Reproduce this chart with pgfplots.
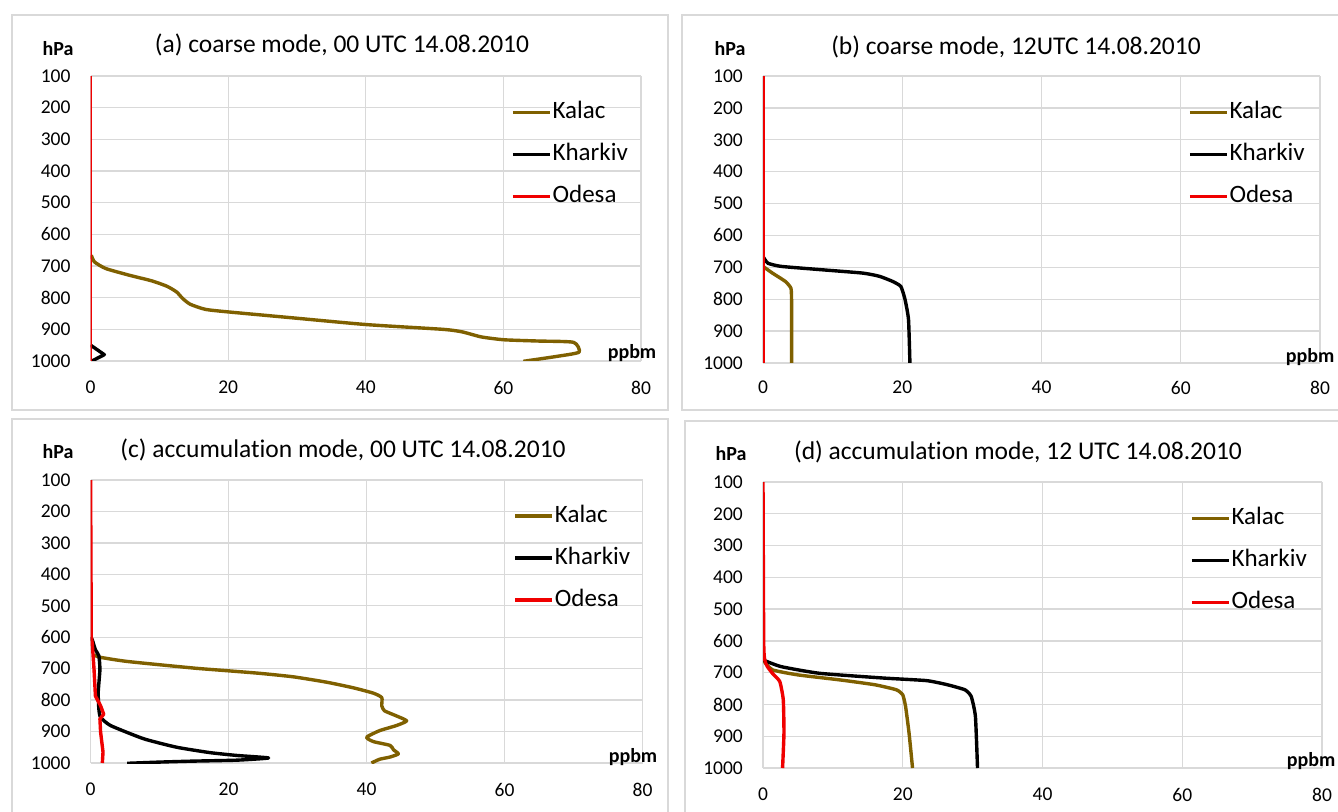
\documentclass[border=0pt]{standalone}
\usepackage{pgfplots}
\pgfplotsset{compat=1.18}
\usepackage{fontspec}
\setmainfont{Carlito}[Ligatures={NoCommon}]
\definecolor{kalac}{RGB}{127,96,0}
\definecolor{odesa}{RGB}{240,0,0}
\definecolor{gridc}{RGB}{217,217,217}
\pgfplotsset{
 panel/.style={scale only axis, anchor=south west, xmin=0,xmax=80,ymin=100,ymax=1000,y dir=reverse,
  xtick={0,20,40,60,80}, ytick={100,200,...,1000}, grid=major, grid style={gridc, line width=1.3pt},
  axis line style={draw=none}, major tick length=0pt,
  tick label style={font=\fontsize{19.5}{22}\selectfont, text=black},
  /pgf/number format/assume math mode=true,
  /pgf/number format/set thousands separator={},
  yticklabel style={anchor=east, inner sep=0pt, xshift=-20pt},
  xticklabel style={anchor=north, inner sep=0pt, yshift=-20pt},
  legend cell align=left,
  legend style={draw=none, fill=none, font=\fontsize{25}{30}\selectfont, inner sep=0pt, row sep=16pt,
    nodes={inner sep=1pt, text height=18pt, text depth=6pt}},
  legend image code/.code={\draw[#1, line width=3.3pt] (0pt,0pt) -- (37pt,0pt);},
  every axis plot/.append style={line width=3.4pt, line join=round},
 },
}
\begin{document}
\begin{tikzpicture}
\useasboundingbox (0,0) rectangle (1338pt,811pt);
\fill[white] (0,0) rectangle (1338pt,811pt);
% frames
\draw[gridc, line width=1.5pt] (12pt,401pt) rectangle (668pt,796pt);
\draw[gridc, line width=1.5pt] (682pt,401pt) rectangle (1345pt,796pt);
\draw[gridc, line width=1.5pt] (12pt,-10pt) rectangle (668pt,392pt);
\draw[gridc, line width=1.5pt] (685pt,-10pt) rectangle (1345pt,390pt);

% (a)
\begin{axis}[panel, at={(90.6pt,450pt)}, width=550.4pt, height=285pt,
  legend style={at={(0.764,0.919)}, anchor=north west}]
\addplot[kalac, smooth, tension=0.35] coordinates {(0.1,666) (0.56,687) (2.2,708) (5.6,729) (8.9,747) (11.1,764) (12.5,782) (13.4,803) (14.5,821) (16.7,837) (20,845) (29,863) (40.1,885) (51.2,900) (54,908) (56.8,924) (60.1,933) (65.1,937) (70.2,941) (71,972) (67.9,985) (62.9,1001)};
\addlegendentry{Kalac}
\addplot[black] coordinates {(0,950) (1,965) (2,980) (1,991) (0.2,1000)};
\addlegendentry{Kharkiv}
\addplot[odesa] coordinates {(0,100) (0,1000)};
\addlegendentry{Odesa}
\end{axis}
\node[font=\fontsize{25.5}{30}\selectfont] at (342pt,766pt) {(a) coarse mode, 00 UTC 14.08.2010};
\node[font=\bfseries\fontsize{20}{24}\selectfont] at (58pt,762pt) {hPa};
\node[font=\bfseries\fontsize{20}{24}\selectfont] at (632pt,458pt) {ppbm};

% (b)
\begin{axis}[panel, at={(763pt,448pt)}, width=557pt, height=287pt,
  legend style={at={(0.763,0.919)}, anchor=north west}, xticklabel style={yshift=2pt}]
\addplot[kalac, smooth, tension=0.3] coordinates {(0,697) (1.35,718) (3.2,744) (4.0,765) (4.1,801) (4.1,1000)};
\addlegendentry{Kalac}
\addplot[black, smooth, tension=0.3] coordinates {(0,666) (0.7,687) (2.6,697) (8.1,707) (14.3,718) (16.7,728) (18.6,744) (19.8,760) (20.4,801) (20.9,864) (21.1,1000)};
\addlegendentry{Kharkiv}
\addplot[odesa] coordinates {(0,100) (0,1000)};
\addlegendentry{Odesa}
\end{axis}
\node[font=\fontsize{25.5}{30}\selectfont] at (1016pt,764pt) {(b) coarse mode, 12UTC 14.08.2010};
\node[font=\bfseries\fontsize{20}{24}\selectfont] at (730pt,762pt) {hPa};
\node[font=\bfseries\fontsize{20}{24}\selectfont] at (1310pt,454pt) {ppbm};

% (c)
\begin{axis}[panel, at={(90.6pt,48pt)}, width=552pt, height=283pt,
  legend style={at={(0.766,0.919)}, anchor=north west}]
\addplot[kalac, smooth, tension=0.35] coordinates {(0.5,655) (1.2,663) (5.3,677) (14.9,698) (19.5,706) (24.6,715) (29.4,726) (34.2,743) (38.1,761) (41,778) (42.2,792) (42.2,818) (42.6,834) (44.3,850) (45.8,866) (44.3,881) (41.9,897) (40,918) (41,932) (43.4,944) (43.9,958) (44.6,971) (43.4,981) (41.9,988) (40.7,1000)};
\addlegendentry{Kalac}
\addplot[black, smooth, tension=0.3] coordinates {(0,600) (0.24,608) (0.7,640) (1.2,659) (1.35,703) (1.1,776) (1.2,829) (1.45,855) (2.9,881) (7.7,923) (12.5,950) (17.3,967) (21.2,976) (25.8,984) (21.2,991) (14.9,994) (10.1,997) (5.3,1001)};
\addlegendentry{Kharkiv}
\addplot[odesa] coordinates {(0,100) (0.1,600) (0.24,619) (0.5,703) (0.7,787) (1.45,818) (1.9,845) (1.35,860) (1.45,902) (1.8,965) (1.7,1000)};
\addlegendentry{Odesa}
\end{axis}
\node[font=\fontsize{25.5}{30}\selectfont] at (343pt,361pt) {(c) accumulation mode, 00 UTC 14.08.2010};
\node[font=\bfseries\fontsize{20}{24}\selectfont] at (58pt,359pt) {hPa};
\node[font=\bfseries\fontsize{20}{24}\selectfont] at (633pt,54pt) {ppbm};

% (d)
\begin{axis}[panel, at={(763pt,43pt)}, width=559pt, height=286pt,
  legend style={at={(0.764,0.919)}, anchor=north west}]
\addplot[kalac, smooth, tension=0.3] coordinates {(0,660) (1.35,691) (5,707) (11.1,723) (16,738) (19.1,754) (20,770) (20.4,806) (20.9,890) (21.4,1000)};
\addlegendentry{Kalac}
\addplot[black, smooth, tension=0.3] coordinates {(0,660) (2.6,681) (8.1,702) (17.3,717) (23.4,725) (26.4,738) (28.9,754) (29.8,775) (30.4,838) (30.7,1000)};
\addlegendentry{Kharkiv}
\addplot[odesa, smooth, tension=0.3] coordinates {(0,100) (0.1,600) (0.25,660) (0.6,680) (1.35,702) (2.4,728) (2.9,785) (3.0,890) (2.8,1000)};
\addlegendentry{Odesa}
\end{axis}
\node[font=\fontsize{25.5}{30}\selectfont] at (1018pt,359pt) {(d) accumulation mode, 12 UTC 14.08.2010};
\node[font=\bfseries\fontsize{20}{24}\selectfont] at (731pt,357pt) {hPa};
\node[font=\bfseries\fontsize{20}{24}\selectfont] at (1311pt,50pt) {ppbm};
\end{tikzpicture}
\end{document}
